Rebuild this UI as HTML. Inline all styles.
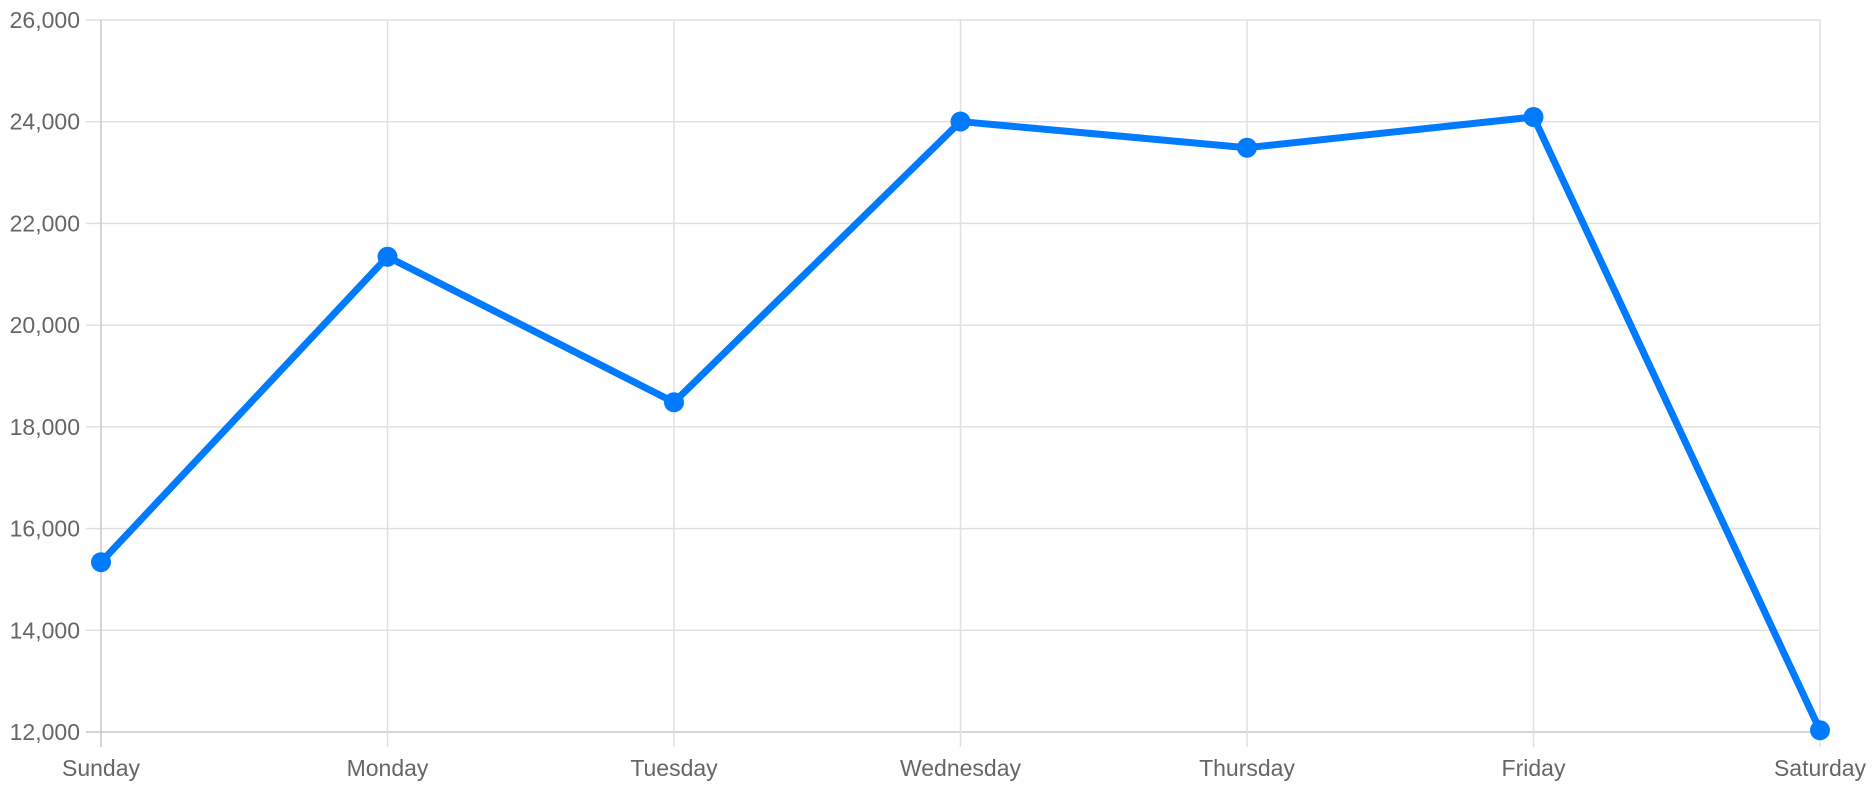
<!DOCTYPE html>
<html><head><meta charset="utf-8"><style>
html,body{margin:0;padding:0;background:#fff;}
svg{display:block;}
text{font-family:"Liberation Sans",Arial,sans-serif;font-size:23px;fill:#666;}
</style></head><body>
<svg id="chart" width="1874" height="791" viewBox="0 0 1874 791" xmlns="http://www.w3.org/2000/svg">
<g id="grid"></g>
<g id="axes"></g>
<g id="series"></g>
</svg>
<script>
const categories = ["Sunday","Monday","Tuesday","Wednesday","Thursday","Friday","Saturday"];
const values = [15339, 21345, 18483, 24003, 23489, 24092, 12034];
const yTicks = [12000, 14000, 16000, 18000, 20000, 22000, 24000, 26000];
const yMin = 12000, yMax = 26000;
const X0 = 101, X1 = 1820, Y0 = 732, Y1 = 20;
const NS = "http://www.w3.org/2000/svg";
function xs(i){ return X0 + (X1 - X0) * i / (categories.length - 1); }
function ys(v){ return Y0 - (v - yMin) / (yMax - yMin) * (Y0 - Y1); }
function mk(tag, attrs, parent){ const e = document.createElementNS(NS, tag); for (const k in attrs) e.setAttribute(k, attrs[k]); parent.appendChild(e); return e; }
const grid = document.getElementById('grid'), axes = document.getElementById('axes'), series = document.getElementById('series');
yTicks.forEach(t => {
  const y = ys(t);
  const l = mk('line', {x1: 86, x2: X1, y1: y, y2: y, stroke: t === yMin ? '#c8c8c8' : '#e0e0e0', 'stroke-width': 1.5}, grid);
  
  
  const tx = mk('text', {x: 80, y: y + 8, 'text-anchor': 'end'}, axes);
  tx.textContent = t.toLocaleString('en-US');
  
  
});
categories.forEach((c, i) => {
  const x = xs(i);
  const l = mk('line', {x1: x, x2: x, y1: Y1, y2: Y0 + 15, stroke: i === 0 ? '#c8c8c8' : '#e0e0e0', 'stroke-width': 1.5}, grid);
  
  
  const tx = mk('text', {x: x, y: 776, 'text-anchor': 'middle'}, axes);
  tx.textContent = c;
  
  
});
const pts = values.map((v, i) => xs(i) + ',' + ys(v)).join(' ');
const pl = mk('polyline', {points: pts, fill: 'none', stroke: '#007bff', 'stroke-width': 7, 'stroke-linejoin': 'round'}, series);


values.forEach((v, i) => {
  const c = mk('circle', {cx: xs(i), cy: ys(v), r: 10, fill: '#007bff'}, series);
  
  
});
</script>
</body></html>
